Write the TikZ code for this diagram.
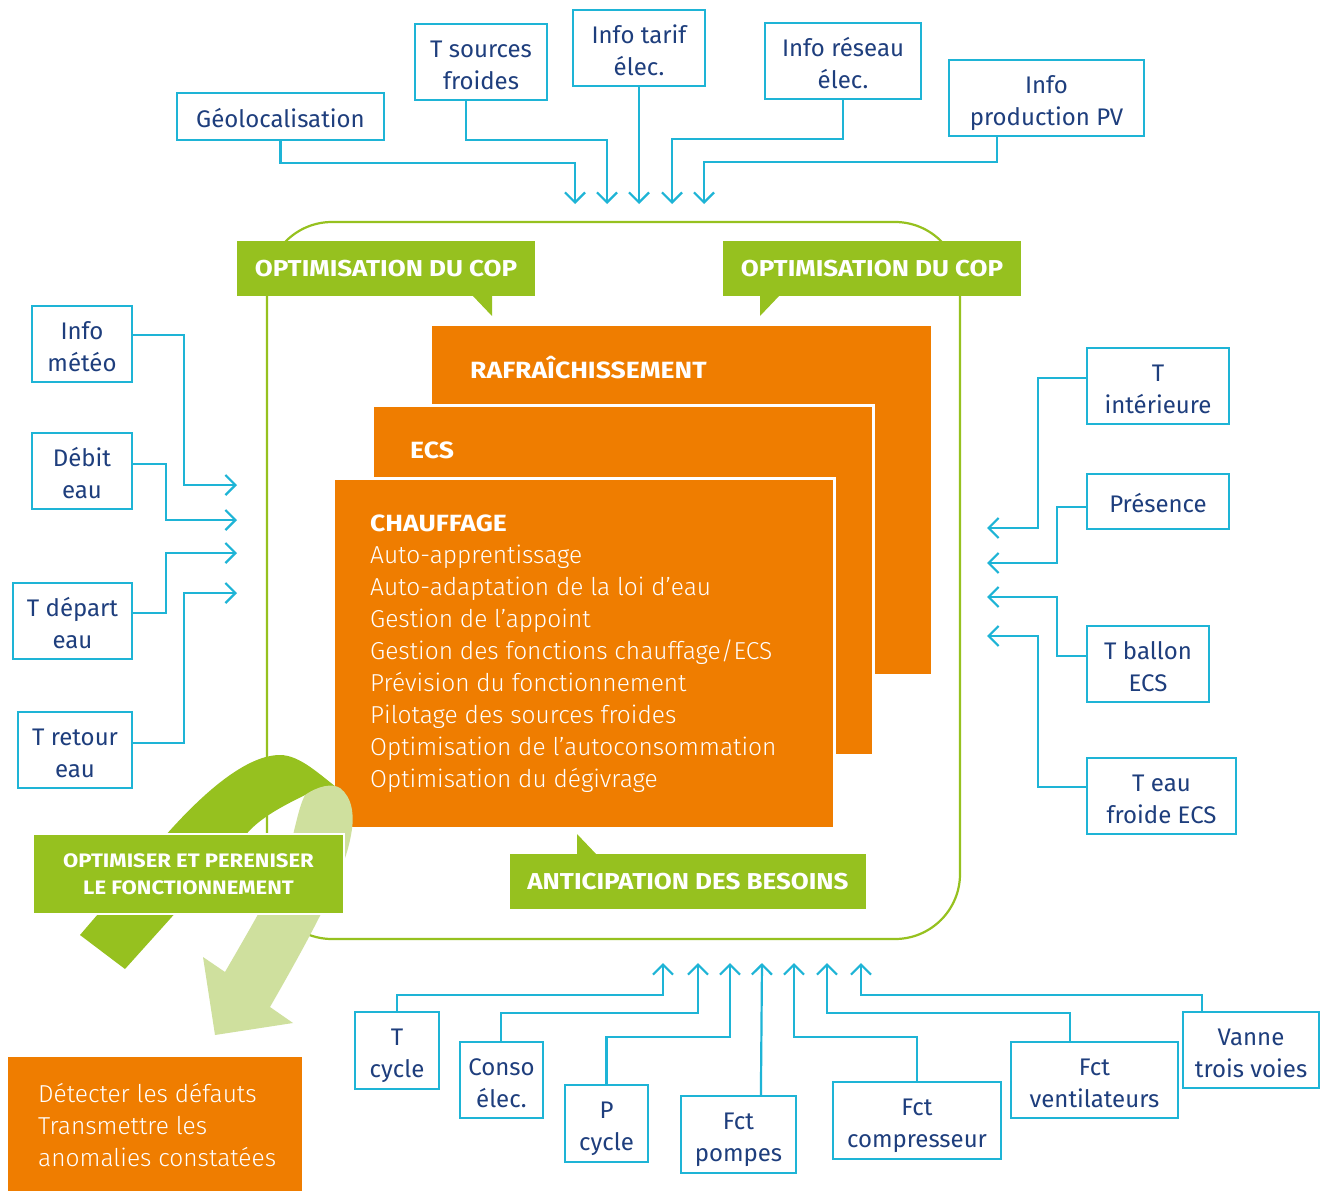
\documentclass[tikz,border=0pt]{standalone}
\usepackage{fontspec}
\setmainfont{Fira Sans}
\newfontfamily\hfont{Fira Sans}[FakeStretch=1.13]
\IfFontExistsTF{Fira Sans Light}{\newfontfamily\lightfont{Fira Sans Light}}{\newfontfamily\lightfont{Fira Sans}}
\usetikzlibrary{arrows.meta,calc}
\definecolor{cy}{HTML}{1EB4D6}
\definecolor{navy}{HTML}{1E3E7D}
\definecolor{gr}{HTML}{96C11F}
\definecolor{lgr}{HTML}{CFE09E}
\definecolor{org}{HTML}{EF7D00}
\newcommand\tup{\rule{0pt}{31.6pt}}
\newcommand\tdn{\rule[-9.6pt]{0pt}{9.6pt}}
\begin{document}
\begin{tikzpicture}[x=1pt,y=-1pt,
  inbox/.style={draw=cy, line width=2.2pt, fill=white, text=navy, align=center,
    font=\fontsize{24}{32}\selectfont, inner sep=0pt},
  conn/.style={draw=cy, line width=2.2pt, -{Straight Barb[length=10pt,width=20pt]}},
  lab/.style={fill=gr, text=white, font=\hfont\bfseries\fontsize{23}{28}\selectfont, inner sep=0pt},
  orgbox/.style={fill=org, inner sep=0pt, anchor=north west},
  head/.style={text=white, font=\hfont\bfseries\fontsize{23.5}{28}\selectfont, anchor=base west, inner sep=0pt},
  body/.style={text=white, font=\lightfont\fontsize{24.5}{32}\selectfont, anchor=base west, inner sep=0pt}]
\useasboundingbox (0,0) rectangle (1323,1191);
\fill[white] (0,0) rectangle (1323,1191);

% frame
\draw[gr, line width=2.2pt, rounded corners=65] (267,222) rectangle (960,939);

% orange boxes
\node[orgbox, minimum width=499, minimum height=348] (rafr) at (432,326) {};
\node[head] (rafrt) at (470,378) {RAFRAÎCHISSEMENT};
\node[orgbox, draw=white, line width=3pt, minimum width=501, minimum height=350] (ecs) at (371,404) {};
\node[head] (ecst) at (410,458) {ECS};
\node[orgbox, draw=white, line width=3pt, minimum width=501, minimum height=350] (chauf) at (332,477) {};
\node[head] (chauft) at (370,531) {CHAUFFAGE};
\foreach \t [count=\i] in {{Auto-apprentissage},{Auto-adaptation de la loi d’eau},{Gestion de l’appoint},{Gestion des fonctions chauffage/ECS},{Prévision du fonctionnement},{Pilotage des sources froides},{Optimisation de l’autoconsommation},{Optimisation du dégivrage}}
  \node[body] (cl\i) at (370,{531+32*\i}) {\t};

% green labels
\node[lab, minimum width=298, minimum height=55] (cop1) at (386,268.5) {OPTIMISATION DU COP};
\fill[gr] (472,295) -- (492,295) -- (492,316) -- cycle;
\node[lab, minimum width=298, minimum height=55] (cop2) at (872,268.5) {OPTIMISATION DU COP};
\fill[gr] (760,295) -- (780,295) -- (760,316) -- cycle;
\node[lab, minimum width=356, minimum height=55] (antic) at (688,881.5) {ANTICIPATION DES BESOINS};
\fill[gr] (577,855) -- (577,834) -- (597,855) -- cycle;

% curved arrows
\fill[gr] (80,935) -- (165,836) .. controls (210,785) and (250,755) .. (280,755)
  .. controls (300,755) and (320,775) .. (340,790) -- (305,795)
  .. controls (285,805) and (265,815) .. (250,830) -- (125,969) -- cycle;
\fill[lgr] (305,795) .. controls (318,786) and (332,783) .. (340,788)
  .. controls (352,797) and (355,815) .. (351,835)
  .. controls (345,870) and (320,920) .. (270,1007) -- (293,1023) -- (215,1035)
  -- (203,957) -- (225,972) .. controls (255,920) and (285,870) .. (293,835)
  .. controls (298,815) and (300,805) .. (305,795) -- cycle;
\node[lab, draw=white, line width=2pt, minimum width=311, minimum height=80, align=center,
  font=\hfont\bfseries\fontsize{19.5}{27}\selectfont] (optim) at (188.5,874) {OPTIMISER ET PERENISER\\LE FONCTIONNEMENT};

% bottom-left orange box
\node[orgbox, minimum width=294, minimum height=140] (detect) at (8,1057) {};
\node[body] (d1) at (38,1102) {Détecter les défauts};
\node[body] (d2) at (38,1134) {Transmettre les};
\node[body] (d3) at (38,1166) {anomalies constatées};

% arrow tip coordinates
\coordinate (ttop1) at (575,204);
\coordinate (ttop2) at (607,204);
\coordinate (ttop3) at (639,204);
\coordinate (ttop4) at (672,204);
\coordinate (ttop5) at (704,204);
\coordinate (tl1) at (237,485);
\coordinate (tl2) at (237,520);
\coordinate (tl3) at (237,553);
\coordinate (tl4) at (237,593);
\coordinate (tr1) at (987,528);
\coordinate (tr2) at (987,563);
\coordinate (tr3) at (987,597);
\coordinate (tr4) at (987,636);
\coordinate (tb1) at (663,963);
\coordinate (tb2) at (698,963);
\coordinate (tb3) at (730,963);
\coordinate (tb4) at (762,963);
\coordinate (tb5) at (794,963);
\coordinate (tb6) at (827,963);
\coordinate (tb7) at (861,963);

% top inputs
\node[inbox, minimum width=207, minimum height=47] (geo) at (280.5,116.5) {\tup Géolocalisation\tdn};
\node[inbox, minimum width=132, minimum height=76] (tsrc) at (481,62) {\tup T sources\\froides\tdn};
\node[inbox, minimum width=132, minimum height=76] (tarif) at (639,48) {\tup Info tarif\\élec.\tdn};
\node[inbox, minimum width=156, minimum height=76] (reseau) at (843,61) {\tup Info réseau\\élec.\tdn};
\node[inbox, minimum width=195, minimum height=76] (pv) at (1046.5,98) {\tup Info\\production PV\tdn};
\draw[conn] (geo.south) |- ($(ttop1)+(0,-41)$) -- (ttop1);
\draw[conn] ($(tsrc.south west)+(52,0)$) |- ($(ttop2)+(0,-64)$) -- (ttop2);
\draw[conn] (tarif.south) -- (ttop3);
\draw[conn] (reseau.south) |- ($(ttop4)+(0,-65)$) -- (ttop4);
\draw[conn] ($(pv.south west)+(49,0)$) |- ($(ttop5)+(0,-42)$) -- (ttop5);

% left inputs
\node[inbox, minimum width=100, minimum height=76] (meteo) at (82,344) {\tup Info\\météo\tdn};
\node[inbox, minimum width=100, minimum height=76] (debit) at (82,471) {\tup Débit\\eau\tdn};
\node[inbox, minimum width=119, minimum height=76] (tdep) at (72.5,621) {\tup T départ\\eau\tdn};
\node[inbox, minimum width=114, minimum height=76] (tret) at (75,750) {\tup T retour\\eau\tdn};
\draw[conn] ($(meteo.north east)+(0,30)$) -| ($(tl1)+(-53,0)$) -- (tl1);
\draw[conn] ($(debit.north east)+(0,32)$) -| ($(tl2)+(-71,0)$) -- (tl2);
\draw[conn] ($(tdep.north east)+(0,31)$) -| ($(tl3)+(-71,0)$) -- (tl3);
\draw[conn] ($(tret.north east)+(0,32)$) -| ($(tl4)+(-53,0)$) -- (tl4);

% right inputs
\node[inbox, minimum width=142, minimum height=76] (tint) at (1158,386) {\tup T\\intérieure\tdn};
\node[inbox, minimum width=142, minimum height=55] (pres) at (1158,501.5) {\tup Présence\tdn};
\node[inbox, minimum width=122, minimum height=76] (tbal) at (1148,664) {\tup T ballon\\ECS\tdn};
\node[inbox, minimum width=149, minimum height=76] (teau) at (1161.5,796) {\tup T eau\\froide ECS\tdn};
\draw[conn] ($(tint.north west)+(0,31)$) -| ($(tr1)+(51,0)$) -- (tr1);
\draw[conn] ($(pres.north west)+(0,34)$) -| ($(tr2)+(70,0)$) -- (tr2);
\draw[conn] ($(tbal.north west)+(0,31)$) -| ($(tr3)+(70,0)$) -- (tr3);
\draw[conn] ($(teau.north west)+(0,30)$) -| ($(tr4)+(51,0)$) -- (tr4);

% bottom inputs
\node[inbox, minimum width=84, minimum height=77] (tcyc) at (397,1050.5) {\tup T\\cycle\tdn};
\node[inbox, minimum width=83, minimum height=76] (conso) at (501.5,1080) {\tup Conso\\élec.\tdn};
\node[inbox, minimum width=83, minimum height=77] (pcyc) at (606.5,1123.5) {\tup P\\cycle\tdn};
\node[inbox, minimum width=115, minimum height=77] (pomp) at (738.5,1134.5) {\tup Fct\\pompes\tdn};
\node[inbox, minimum width=168, minimum height=77] (comp) at (917,1120.5) {\tup Fct\\compresseur\tdn};
\node[inbox, minimum width=167, minimum height=76] (vent) at (1094.5,1080) {\tup Fct\\ventilateurs\tdn};
\node[inbox, minimum width=136, minimum height=76] (vanne) at (1251,1050) {\tup Vanne\\trois voies\tdn};
\draw[conn] (tcyc.north) |- ($(tb1)+(0,32)$) -- (tb1);
\draw[conn] ($(conso.north west)+(42,0)$) |- ($(tb2)+(0,50)$) -- (tb2);
\draw[conn] (pcyc.north) |- ($(tb3)+(0,74)$) -- (tb3);
\draw[conn] ($(pomp.north west)+(81,0)$) -- (tb4);
\draw[conn] (comp.north) |- ($(tb5)+(0,74)$) -- (tb5);
\draw[conn] ($(vent.north west)+(60,0)$) |- ($(tb6)+(0,50)$) -- (tb6);
\draw[conn] ($(vanne.north west)+(20,0)$) |- ($(tb7)+(0,32)$) -- (tb7);
\end{tikzpicture}
\end{document}
